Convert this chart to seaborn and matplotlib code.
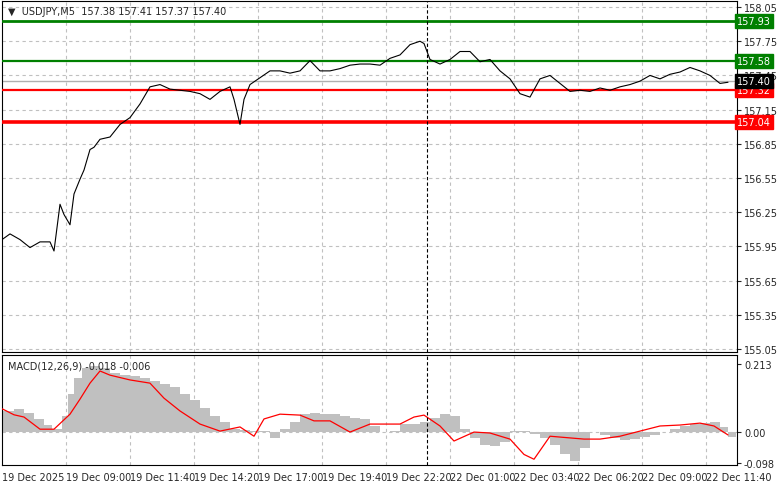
import numpy as np
import pandas as pd
import matplotlib
matplotlib.use("Agg")
import matplotlib.pyplot as plt
import seaborn as sns

sns.set_style("white")
plt.rcParams['font.family'] = ['DejaVu Sans']

# price samples: bar index and price
price_idx = [0,4,9,14,19,24,26,29,31,34,36,39,41,44,46,49,54,59,64,69,74,79,84,89,94,99,104,109,114,116,119,121,124,129,134,139,144,149,154,159,164,169,174,179,184,189,194,199,204,209,211,214,219,224,229,234,239,244,249,254,259,264,269,274,279,284,289,294,299,304,309,314,319,324,329,334,339,344,349,354,359,363]
price_val = [156.01,156.06,156.01,155.94,155.99,155.99,155.91,156.32,156.23,156.14,156.41,156.54,156.62,156.80,156.82,156.89,156.91,157.02,157.08,157.20,157.35,157.37,157.33,157.32,157.31,157.29,157.24,157.31,157.35,157.24,157.02,157.24,157.37,157.43,157.49,157.49,157.47,157.49,157.58,157.49,157.49,157.51,157.54,157.55,157.55,157.54,157.60,157.63,157.72,157.75,157.73,157.59,157.55,157.59,157.66,157.66,157.57,157.59,157.49,157.42,157.29,157.26,157.42,157.45,157.38,157.31,157.32,157.31,157.34,157.32,157.35,157.37,157.40,157.45,157.42,157.46,157.48,157.52,157.49,157.45,157.38,157.39]

macd_idx = [0,6,11,16,21,25,28,30,33,36,40,44,49,54,59,64,69,74,79,84,89,94,99,104,109,114,119,124,129,134,139,144,149,154,159,164,169,174,179,184,189,194,199,204,209,214,219,224,229,234,239,244,249,254,259,264,269,274,279,284,289,294,299,304,309,314,319,324,329,334,339,344,349,354,359,363]
macd_hist = [0.066,0.072,0.060,0.040,0.022,0.010,0.010,0.050,0.120,0.170,0.200,0.207,0.200,0.185,0.180,0.175,0.170,0.160,0.150,0.140,0.120,0.100,0.075,0.050,0.030,0.010,0.005,0.004,0.003,-0.020,0.010,0.030,0.055,0.060,0.058,0.056,0.050,0.045,0.040,0.020,0.000,0.003,0.025,0.025,0.030,0.045,0.055,0.050,0.010,-0.020,-0.040,-0.044,-0.030,0.003,0.003,-0.005,-0.020,-0.040,-0.070,-0.090,-0.050,0.000,-0.009,-0.020,-0.025,-0.022,-0.015,-0.010,0.000,0.010,0.020,0.025,0.028,0.030,0.015,-0.015]

sig_idx = [0,6,11,19,26,34,39,44,49,54,64,74,81,89,99,109,119,126,131,139,149,156,164,174,184,191,199,206,211,219,226,236,244,254,261,266,274,291,299,309,319,329,339,349,356,363]
sig_val = [0.073,0.054,0.047,0.009,0.009,0.056,0.103,0.153,0.191,0.178,0.163,0.153,0.106,0.066,0.025,0.003,0.016,-0.013,0.041,0.056,0.053,0.035,0.035,0.000,0.025,0.025,0.025,0.047,0.053,0.019,-0.028,0.000,-0.003,-0.022,-0.070,-0.085,-0.013,-0.022,-0.022,-0.013,0.003,0.019,0.022,0.028,0.019,-0.009]

ytick_vals = [158.05,157.75,157.45,157.15,156.85,156.55,156.25,155.95,155.65,155.35,155.05]
xtick_labels = ["19 Dec 2025","19 Dec 09:00","19 Dec 11:40","19 Dec 14:20","19 Dec 17:00","19 Dec 19:40",
                "19 Dec 22:20","22 Dec 01:00","22 Dec 03:40","22 Dec 06:20","22 Dec 09:00","22 Dec 11:40"]
levels = [157.93, 157.58, 157.32, 157.04]
level_colors = ["#008000", "#008000", "#ff0000", "#ff0000"]
level_widths = [2.0, 1.6, 1.6, 2.6]
current_price = 157.40

W, H = 781, 489
fig = plt.figure(figsize=(W/100, H/100), dpi=100)
L, R = 2/W, 737/W
ax = fig.add_axes([L, 1-353/H, R-L, (353-2)/H])
ax2 = fig.add_axes([L, 1-466/H, R-L, (466-356)/H])

xmax = 367.5
for a in (ax, ax2):
    a.set_xlim(0, xmax)
    for s in a.spines.values():
        s.set_color("black"); s.set_linewidth(0.8)
    a.yaxis.tick_right()
    a.tick_params(axis='y', labelsize=7, length=3, pad=2)
    a.tick_params(axis='x', length=3)
    grid_x = [32*k for k in range(1, 12)]
    for gx in grid_x:
        a.axvline(gx, color="#c0c0c0", ls=(0, (3, 3)), lw=0.8, zorder=0)
    a.axvline(212.5, color="black", ls=(0, (3, 2)), lw=0.8, zorder=5)

ax.set_ylim(155.024, 158.103)
ax.set_yticks(ytick_vals)
ax.set_yticklabels([f"{v:.2f}" for v in ytick_vals])
for v in ytick_vals:
    ax.axhline(v, color="#c0c0c0", ls=(0, (3, 3)), lw=0.8, zorder=0)
ax.set_xticks([])
ax.axhline(current_price, color="#b0b0b0", lw=1.0, zorder=1)
for lv, c, lw in zip(levels, level_colors, level_widths):
    ax.axhline(lv, color=c, lw=lw, zorder=3)
    ax.text(1.0, lv, f"{lv:.2f}", transform=ax.get_yaxis_transform(), ha="left", va="center",
            fontsize=7, color="white", bbox=dict(boxstyle="square,pad=0.2", fc=c, ec=c), clip_on=False)
ax.text(1.0, current_price, f"{current_price:.2f}", transform=ax.get_yaxis_transform(), ha="left", va="center",
        fontsize=7, color="white", bbox=dict(boxstyle="square,pad=0.2", fc="black", ec="black"), clip_on=False)

dfp = pd.DataFrame({"i": price_idx, "p": price_val})
sns.lineplot(data=dfp, x="i", y="p", ax=ax, color="black", lw=0.8, zorder=4)
ax.set_xlabel(""); ax.set_ylabel("")
ax.text(0.008, 0.985, "▼  USDJPY,M5  157.38 157.41 157.37 157.40", transform=ax.transAxes,
        fontsize=7, va="top", ha="left")

ax2.set_ylim(-0.103, 0.241)
ax2.set_yticks([0.213, 0.0, -0.098])
ax2.set_yticklabels(["0.213", "0.00", "-0.098"])
ax2.axhline(0, color="#c0c0c0", ls=(0, (3, 3)), lw=0.8, zorder=0)
widths = np.diff(macd_idx + [macd_idx[-1] + 4])
ax2.bar(macd_idx, macd_hist, width=widths, align="edge", color="#c0c0c0", lw=0, zorder=2)
dfs = pd.DataFrame({"i": sig_idx, "s": sig_val})
sns.lineplot(data=dfs, x="i", y="s", ax=ax2, color="red", lw=0.9, zorder=4)
ax2.set_xlabel(""); ax2.set_ylabel("")
ax2.text(0.008, 0.95, "MACD(12,26,9) -0.018 -0.006", transform=ax2.transAxes, fontsize=7, va="top", ha="left")
ax2.set_xticks([32*k for k in range(12)])
ax2.set_xticklabels(xtick_labels, fontsize=7, ha="left")
ax2.tick_params(axis='x', pad=2)

fig.savefig("out.png", dpi=100, facecolor="white")
